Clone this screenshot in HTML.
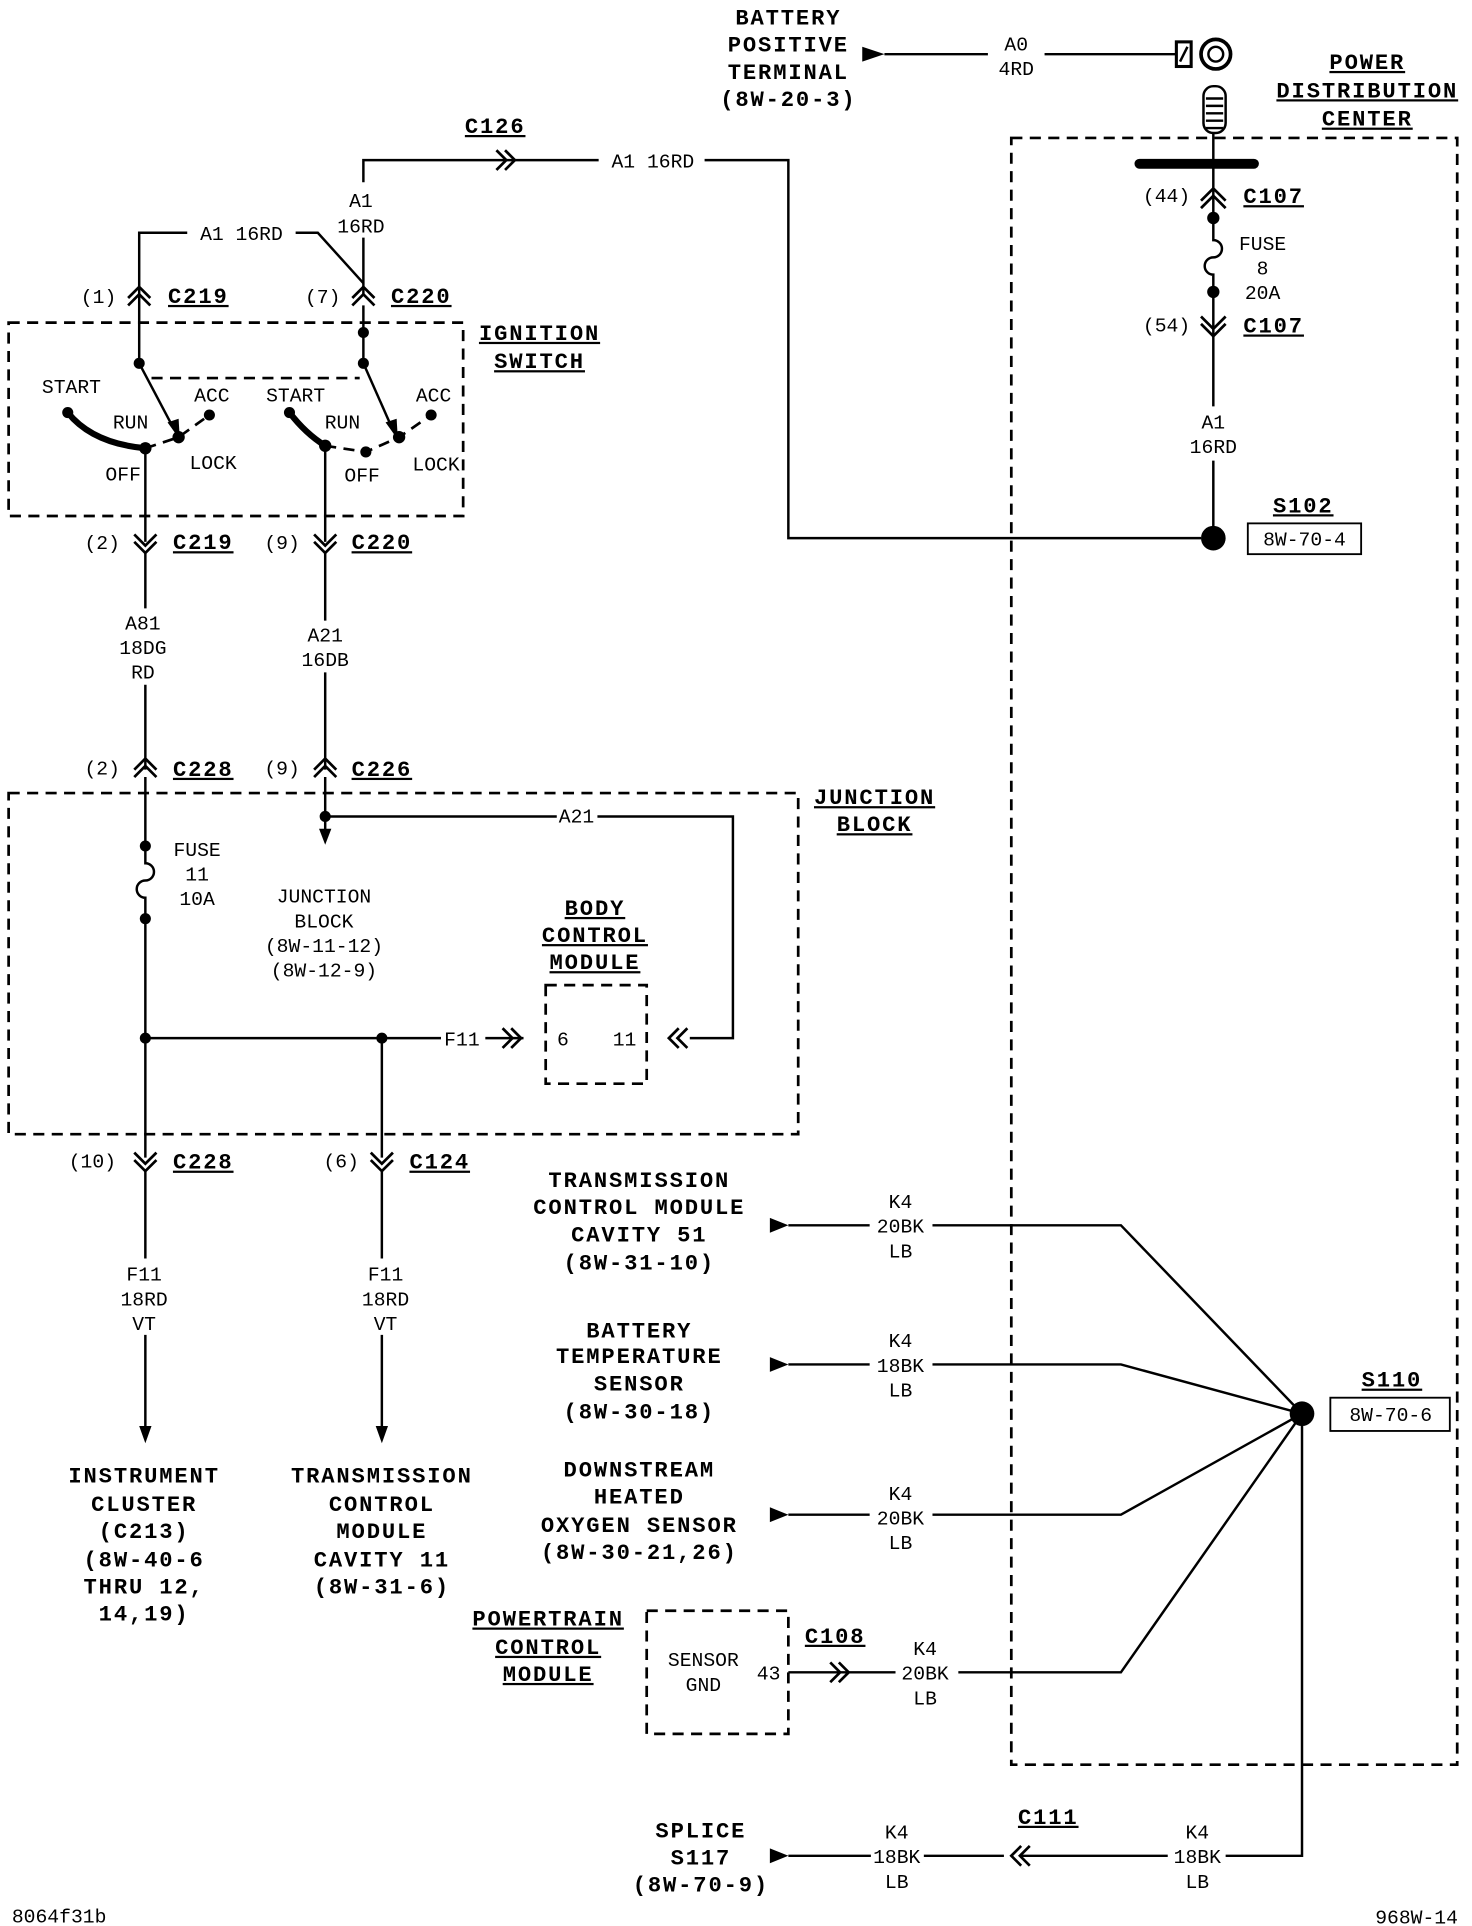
<!DOCTYPE html>
<html><head><meta charset="utf-8"><style>
html,body{margin:0;padding:0;background:#fff}
svg{display:block}
text{font-family:"Liberation Mono",monospace;font-size:16px;fill:#000;text-anchor:middle}
.b{font-weight:bold;font-size:18px;letter-spacing:1.5px}
.u{text-decoration:underline}
.l{fill:none;stroke:#000;stroke-width:2}
.d{fill:none;stroke:#000;stroke-width:2.2;stroke-dasharray:9 6}
.c{fill:none;stroke:#000;stroke-width:2.2}
</style></head><body>
<svg width="1472" height="1926" viewBox="0 0 1195 1564" preserveAspectRatio="none" xmlns="http://www.w3.org/2000/svg">
<!-- battery -->
<text class="b" x="640" y="20">BATTERY</text>
<text class="b" x="640" y="42">POSITIVE</text>
<text class="b" x="640" y="64">TERMINAL</text>
<text class="b" x="640" y="86">(8W-20-3)</text>
<path d="M700 38 L718 44 L700 50Z"/>
<path class="l" d="M718 44 H802 M848 44 H955"/>
<text x="825" y="41">A0</text><text x="825" y="61">4RD</text>
<rect x="955" y="34" width="12" height="20" fill="none" stroke="#000" stroke-width="2.5"/>
<path class="l" d="M958 50 L964 38"/>
<circle cx="987" cy="44" r="12" fill="none" stroke="#000" stroke-width="3"/>
<circle cx="987" cy="44" r="6" fill="none" stroke="#000" stroke-width="2"/>
<rect x="977" y="70" width="18" height="38" rx="8" fill="none" stroke="#000" stroke-width="2"/>
<path class="l" d="M979 80H993M979 86H993M979 92H993M979 98H993M979 104H993"/>
<text class="b u" x="1110" y="56">POWER</text>
<text class="b u" x="1110" y="79">DISTRIBUTION</text>
<text class="b u" x="1110" y="102">CENTER</text>
<rect class="d" x="821" y="112" width="362" height="1321"/>
<path d="M925 133 H1018" stroke="#000" stroke-width="8" stroke-linecap="round"/>
<path class="l" d="M985 108 V195 a7 7 0 0 1 0 14 a7 7 0 0 0 0 14 V330 M985 374 V437"/>
<path class="c" d="M975 163 L985 153 L995 163 M975 169 L985 159 L995 169"/>
<text x="947" y="164">(44)</text><text class="b u" x="1034" y="165">C107</text>
<circle cx="985" cy="177" r="5"/>
<circle cx="985" cy="237" r="5"/>
<text x="1025" y="203">FUSE</text><text x="1025" y="223">8</text><text x="1025" y="243">20A</text>
<path class="c" d="M975 257 L985 267 L995 257 M975 263 L985 273 L995 263"/>
<text x="947" y="269">(54)</text><text class="b u" x="1034" y="270">C107</text>
<text x="985" y="348">A1</text><text x="985" y="368">16RD</text>
<circle cx="985" cy="437" r="10"/>
<text class="b u" x="1058" y="416">S102</text>
<rect x="1013" y="425" width="92" height="25" fill="none" stroke="#000" stroke-width="1.5"/>
<text x="1059" y="443">8W-70-4</text>
<!-- C126 run -->
<path class="l" d="M975 437 H640 V130 H572 M486 130 H295 V148 M295 193 V240"/>
<path class="c" d="M403 122 L411 130 L403 138 M410 122 L418 130 L410 138"/>
<text class="b u" x="402" y="108">C126</text>
<text x="530" y="136">A1 16RD</text>
<text x="293" y="168">A1</text><text x="293" y="189">16RD</text>
<path class="l" d="M113 295 V189 H152 M240 189 H258 L295 230"/>
<text x="196" y="195">A1 16RD</text>
<path class="c" d="M104 242 L113 233 L122 242 M104 248 L113 239 L122 248"/>
<text x="80" y="246">(1)</text><text class="b u" x="161" y="246">C219</text>
<path class="c" d="M286 242 L295 233 L304 242 M286 248 L295 239 L304 248"/>
<text x="262" y="246">(7)</text><text class="b u" x="342" y="246">C220</text>
<!-- ignition switch -->
<rect class="d" x="7" y="262" width="369" height="157"/>
<text class="b u" x="438" y="276">IGNITION</text>
<text class="b u" x="438" y="299">SWITCH</text>
<path class="l" d="M295 248 V295"/>
<circle cx="113" cy="295" r="4.5"/><circle cx="295" cy="270" r="4.5"/><circle cx="295" cy="295" r="4.5"/>
<path class="d" d="M123 307 H292" stroke-dasharray="8 5"/>
<path class="l" d="M113 295 L141 348"/><path d="M136 343 L146 357 L145 340Z"/>
<path class="l" d="M295 295 L318 347"/><path d="M313 343 L323 357 L322 340Z"/>
<path class="d" d="M118 364 L145 355 L170 337" stroke-dasharray="6 4"/>
<circle cx="145" cy="355" r="5"/><circle cx="170" cy="337" r="4.5"/>
<path d="M55 335 Q75 360 118 364" fill="none" stroke="#000" stroke-width="5"/>
<circle cx="55" cy="335" r="4.5"/><circle cx="118" cy="364" r="5"/>
<path class="l" d="M118 364 V440"/>
<text x="58" y="319">START</text><text x="106" y="348">RUN</text><text x="172" y="326">ACC</text>
<text x="173" y="381">LOCK</text><text x="100" y="390">OFF</text>
<path class="d" d="M264 362 L297 367 L324 355 L350 337" stroke-dasharray="6 4"/>
<circle cx="297" cy="367" r="4.5"/><circle cx="324" cy="355" r="5"/><circle cx="350" cy="337" r="4.5"/>
<path d="M235 335 Q248 352 264 362" fill="none" stroke="#000" stroke-width="5"/>
<circle cx="235" cy="335" r="4.5"/><circle cx="264" cy="362" r="5"/>
<path class="l" d="M264 362 V440"/>
<text x="240" y="326">START</text><text x="278" y="348">RUN</text><text x="352" y="326">ACC</text>
<text x="354" y="382">LOCK</text><text x="294" y="391">OFF</text>
<!-- C219/C220 bottom -->
<path class="c" d="M109 434 L118 443 L127 434 M109 440 L118 449 L127 440"/>
<text x="83" y="446">(2)</text><text class="b u" x="165" y="446">C219</text>
<path class="c" d="M255 434 L264 443 L273 434 M255 440 L264 449 L273 440"/>
<text x="229" y="446">(9)</text><text class="b u" x="310" y="446">C220</text>
<path class="l" d="M118 449 V494 M118 556 V625 M264 449 V504 M264 546 V625"/>
<text x="116" y="511">A81</text><text x="116" y="531">18DG</text><text x="116" y="551">RD</text>
<text x="264" y="521">A21</text><text x="264" y="541">16DB</text>
<path class="c" d="M109 625 L118 616 L127 625 M109 631 L118 622 L127 631"/>
<text x="83" y="629">(2)</text><text class="b u" x="165" y="630">C228</text>
<path class="c" d="M255 625 L264 616 L273 625 M255 631 L264 622 L273 631"/>
<text x="229" y="629">(9)</text><text class="b u" x="310" y="630">C226</text>
<!-- junction block -->
<rect class="d" x="7" y="644" width="641" height="277"/>
<text class="b u" x="710" y="653">JUNCTION</text>
<text class="b u" x="710" y="675">BLOCK</text>
<path class="l" d="M264 631 V675 M264 663 H452 M485 663 H595 V843 H560"/>
<circle cx="264" cy="663" r="4.5"/>
<path d="M259 673 L264 686 L269 673Z"/>
<text x="468" y="668">A21</text>
<text x="263" y="733">JUNCTION</text><text x="263" y="753">BLOCK</text>
<text x="263" y="773">(8W-11-12)</text><text x="263" y="793">(8W-12-9)</text>
<path class="l" d="M118 631 V701 a7 7 0 0 1 0 14 a7 7 0 0 0 0 14 V940"/>
<circle cx="118" cy="687" r="4.5"/><circle cx="118" cy="746" r="4.5"/>
<text x="160" y="695">FUSE</text><text x="160" y="715">11</text><text x="160" y="735">10A</text>
<path class="l" d="M118 843 H358 M394 843 H425 M310 843 V940"/>
<circle cx="118" cy="843" r="4.5"/><circle cx="310" cy="843" r="4.5"/>
<text x="375" y="849">F11</text>
<path class="c" d="M408 835 L416 843 L408 851 M415 835 L423 843 L415 851"/>
<path class="c" d="M558 835 L550 843 L558 851 M551 835 L543 843 L551 851"/>
<rect class="d" x="443" y="800" width="82" height="80" stroke-dasharray="7 4"/>
<text x="457" y="849">6</text><text x="507" y="849">11</text>
<text class="b u" x="483" y="743">BODY</text>
<text class="b u" x="483" y="765">CONTROL</text>
<text class="b u" x="483" y="787">MODULE</text>
<path class="c" d="M109 936 L118 945 L127 936 M109 942 L118 951 L127 942"/>
<text x="75" y="948">(10)</text><text class="b u" x="165" y="949">C228</text>
<path class="c" d="M301 936 L310 945 L319 936 M301 942 L310 951 L319 942"/>
<text x="277" y="948">(6)</text><text class="b u" x="357" y="949">C124</text>
<path class="l" d="M118 951 V1022 M118 1084 V1160 M310 951 V1022 M310 1084 V1160"/>
<path d="M113 1158 L118 1172 L123 1158Z"/><path d="M305 1158 L310 1172 L315 1158Z"/>
<text x="117" y="1040">F11</text><text x="117" y="1060">18RD</text><text x="117" y="1080">VT</text>
<text x="313" y="1040">F11</text><text x="313" y="1060">18RD</text><text x="313" y="1080">VT</text>
<text class="b" x="117" y="1204">INSTRUMENT</text><text class="b" x="117" y="1227">CLUSTER</text>
<text class="b" x="117" y="1249">(C213)</text><text class="b" x="117" y="1272">(8W-40-6</text>
<text class="b" x="117" y="1294">THRU 12,</text><text class="b" x="117" y="1316">14,19)</text>
<text class="b" x="310" y="1204">TRANSMISSION</text><text class="b" x="310" y="1227">CONTROL</text>
<text class="b" x="310" y="1249">MODULE</text><text class="b" x="310" y="1272">CAVITY 11</text>
<text class="b" x="310" y="1294">(8W-31-6)</text>
<!-- right side grounds -->
<text class="b" x="519" y="964">TRANSMISSION</text><text class="b" x="519" y="986">CONTROL MODULE</text>
<text class="b" x="519" y="1008">CAVITY 51</text><text class="b" x="519" y="1031">(8W-31-10)</text>
<text class="b" x="519" y="1086">BATTERY</text><text class="b" x="519" y="1107">TEMPERATURE</text>
<text class="b" x="519" y="1129">SENSOR</text><text class="b" x="519" y="1152">(8W-30-18)</text>
<text class="b" x="519" y="1199">DOWNSTREAM</text><text class="b" x="519" y="1221">HEATED</text>
<text class="b" x="519" y="1244">OXYGEN SENSOR</text><text class="b" x="519" y="1266">(8W-30-21,26)</text>
<path d="M625 989 L640 995 L625 1001Z"/><path d="M625 1102 L640 1108 L625 1114Z"/><path d="M625 1224 L640 1230 L625 1236Z"/>
<path class="l" d="M640 995 H706 M757 995 H910 L1057 1148"/>
<path class="l" d="M640 1108 H706 M757 1108 H910 L1057 1148"/>
<path class="l" d="M640 1230 H706 M757 1230 H910 L1057 1148"/>
<path class="l" d="M640 1358 H727 M778 1358 H910 L1057 1148"/>
<text x="731" y="981">K4</text><text x="731" y="1001">20BK</text><text x="731" y="1021">LB</text>
<text x="731" y="1094">K4</text><text x="731" y="1114">18BK</text><text x="731" y="1134">LB</text>
<text x="731" y="1218">K4</text><text x="731" y="1238">20BK</text><text x="731" y="1258">LB</text>
<text x="751" y="1344">K4</text><text x="751" y="1364">20BK</text><text x="751" y="1384">LB</text>
<path class="c" d="M674 1350 L682 1358 L674 1366 M681 1350 L689 1358 L681 1366"/>
<text class="b u" x="678" y="1334">C108</text>
<rect class="d" x="525" y="1308" width="115" height="100" stroke-dasharray="7 4"/>
<text x="571" y="1353">SENSOR</text><text x="571" y="1373">GND</text><text x="624" y="1364">43</text>
<text class="b u" x="445" y="1320">POWERTRAIN</text><text class="b u" x="445" y="1343">CONTROL</text><text class="b u" x="445" y="1365">MODULE</text>
<circle cx="1057" cy="1148" r="10"/>
<text class="b u" x="1130" y="1126">S110</text>
<rect x="1080" y="1135" width="97" height="27" fill="none" stroke="#000" stroke-width="1.5"/>
<text x="1129" y="1154">8W-70-6</text>
<path class="l" d="M1057 1148 V1507 H995 M948 1507 H828 M815 1507 H750 M707 1507 H640"/>
<path d="M625 1501 L640 1507 L625 1513Z"/>
<path class="c" d="M829 1499 L821 1507 L829 1515 M836 1499 L828 1507 L836 1515"/>
<text class="b u" x="851" y="1481">C111</text>
<text x="972" y="1493">K4</text><text x="972" y="1513">18BK</text><text x="972" y="1533">LB</text>
<text x="728" y="1493">K4</text><text x="728" y="1513">18BK</text><text x="728" y="1533">LB</text>
<text class="b" x="569" y="1492">SPLICE</text><text class="b" x="569" y="1514">S117</text><text class="b" x="569" y="1536">(8W-70-9)</text>
<text x="48" y="1561">8064f31b</text>
<text x="1150" y="1562">968W-14</text>
</svg>
</body></html>
